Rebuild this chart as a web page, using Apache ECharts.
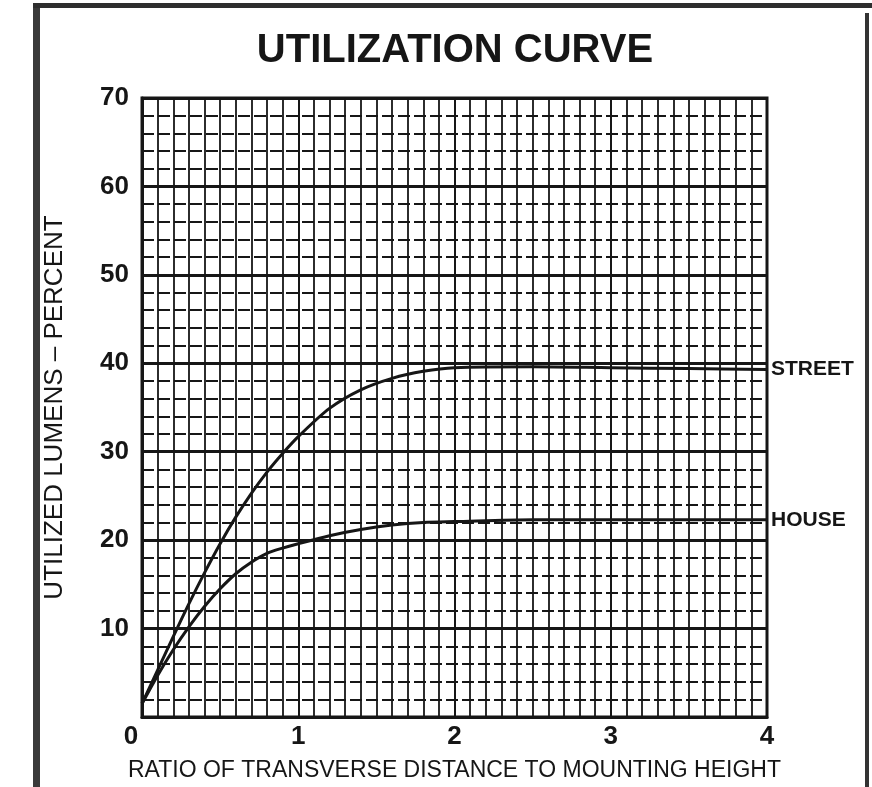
<!DOCTYPE html>
<html>
<head>
<meta charset="utf-8">
<script src="https://cdn.jsdelivr.net/npm/echarts@6/dist/echarts.min.js"></script>
<style>
  html, body { margin: 0; padding: 0; background: #fff; }
  #chart { width: 872px; height: 787px; }
</style>
</head>
<body>
<div id="chart"></div>
<script>
// ratio of transverse distance to mounting height (x positions)
const ratio = [0, 0.1, 0.2, 0.3, 0.4, 0.5, 0.6, 0.7, 0.8, 0.9, 1.0, 1.2, 1.4, 1.6, 1.8, 2.0, 2.5, 3.0, 3.5, 4.0];

// utilized lumens, percent
const streetLumens = [1.5, 5.3, 9.1, 12.8, 16.3, 19.6, 22.6, 25.3, 27.7, 29.8, 31.7, 34.9, 37.0, 38.3, 39.1, 39.5, 39.6, 39.5, 39.4, 39.3];
const houseLumens  = [1.5, 4.7, 7.6, 10.2, 12.5, 14.5, 16.2, 17.5, 18.5, 19.1, 19.6, 20.5, 21.2, 21.7, 22.0, 22.1, 22.3, 22.3, 22.3, 22.3];

const xMin = 0, xMax = 4, xStep = 1;
const yMin = 0, yMax = 70, yStep = 10;

const ink = '#161616';

const toPairs = (xs, ys) => xs.map((x, i) => [x, ys[i]]);

const chart = echarts.init(document.getElementById('chart'));

const curve = (name, ys) => ({
  name: name,
  type: 'line',
  data: toPairs(ratio, ys),
  smooth: 0.3,
  symbol: 'none',
  lineStyle: { color: ink, width: 3 },
  endLabel: {
    show: true,
    formatter: name,
    distance: 4,
    color: ink,
    fontFamily: 'Liberation Sans, Arial, sans-serif',
    fontWeight: 'bold',
    fontSize: 21
  }
});

chart.setOption({
  backgroundColor: '#fff',
  animation: false,
  title: {
    text: 'UTILIZATION CURVE',
    left: 450,
    top: 26,
    textAlign: 'center',
    textStyle: {
      color: ink,
      fontFamily: 'Liberation Sans, Arial, sans-serif',
      fontWeight: 'bold',
      fontSize: 40
    }
  },
  grid: {
    left: 142, right: 105, top: 98, bottom: 65,
    show: true,
    borderColor: ink,
    borderWidth: 3
  },
  xAxis: {
    type: 'value',
    min: xMin, max: xMax, interval: xStep,
    name: 'RATIO OF TRANSVERSE DISTANCE TO MOUNTING HEIGHT',
    nameLocation: 'middle',
    nameGap: 42,
    nameTextStyle: { color: ink, fontSize: 23, fontFamily: 'Liberation Sans, Arial, sans-serif' },
    axisLine: { show: true, lineStyle: { color: ink, width: 3 } },
    axisTick: { show: false },
    axisLabel: {
      margin: 7,
      color: ink,
      fontSize: 26,
      fontWeight: 'bold',
      fontFamily: 'Liberation Sans, Arial, sans-serif',
      formatter: v => v === 0 ? '{z|0}' : String(v),
      rich: { z: { fontSize: 26, fontWeight: 'bold', color: ink, padding: [0, 22, 0, 0] } }
    },
    splitLine: { show: true, lineStyle: { color: ink, width: 2 } },
    minorTick: { show: false, splitNumber: 10 },
    minorSplitLine: { show: true, lineStyle: { color: ink, width: 1.8 } }
  },
  yAxis: {
    type: 'value',
    min: yMin, max: yMax, interval: yStep,
    name: 'UTILIZED LUMENS – PERCENT',
    nameLocation: 'middle',
    nameRotate: 90,
    nameGap: 74,
    nameTextStyle: { color: ink, fontSize: 26, fontFamily: 'Liberation Sans, Arial, sans-serif' },
    axisLine: { show: true, lineStyle: { color: ink, width: 3 } },
    axisTick: { show: false },
    axisLabel: {
      margin: 13,
      color: ink,
      fontSize: 26,
      fontWeight: 'bold',
      fontFamily: 'Liberation Sans, Arial, sans-serif',
      showMinLabel: false
    },
    splitLine: { show: true, lineStyle: { color: ink, width: 3 } },
    minorTick: { show: false, splitNumber: 5 },
    minorSplitLine: { show: true, lineStyle: { color: ink, width: 2, type: [12, 4] } }
  },
  series: [
    curve('STREET', streetLumens),
    curve('HOUSE', houseLumens)
  ],
  graphic: [
    // page frame from the scan
    { type: 'rect', shape: { x: 33, y: 3, width: 7, height: 784 }, style: { fill: '#3a3a3a' } },
    { type: 'rect', shape: { x: 33, y: 3, width: 839, height: 5 }, style: { fill: '#2e2e2e' } },
    { type: 'rect', shape: { x: 865, y: 13, width: 4, height: 774 }, style: { fill: '#333' } }
  ]
});
</script>
</body>
</html>
